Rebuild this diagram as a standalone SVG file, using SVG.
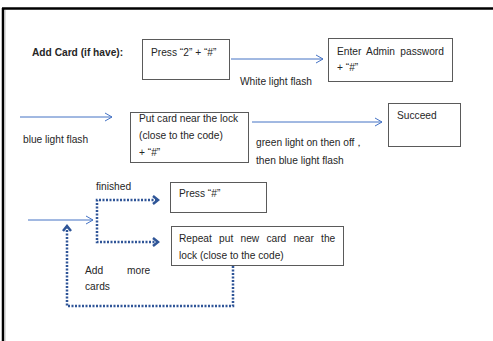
<svg xmlns="http://www.w3.org/2000/svg" width="493" height="341" viewBox="0 0 493 341">
<defs>
<style>
text{font-family:"Liberation Sans","Open Sans",sans-serif;font-size:10.2px;fill:#262626}
.b{font-weight:bold}
.box{fill:#fff;stroke:#5a5a5a;stroke-width:1}
.blue{fill:none;stroke:#4472C4;stroke-width:1}
.dot{fill:none;stroke:#2F5597;stroke-width:2.5;stroke-dasharray:2 1.5}
.head{fill:none;stroke:#2F5597;stroke-width:2.5}
</style>
<marker id="open" markerWidth="10" markerHeight="10" refX="8" refY="5" orient="auto" markerUnits="userSpaceOnUse">
<path d="M1,1 L8,5 L1,9" fill="none" stroke="#4472C4" stroke-width="1"/>
</marker>
</defs>
<rect width="493" height="341" fill="#fff"/>
<g id="frame">
<line x1="2" y1="8.5" x2="493" y2="8.5" stroke="#000" stroke-width="2.5"/>
<line x1="3" y1="8" x2="3" y2="341" stroke="#000" stroke-width="2.5"/>
<line x1="5" y1="10" x2="5" y2="341" stroke="#bbb" stroke-width="1"/>
</g>
<text class="b" x="32" y="56">Add Card (if have):</text>
<g id="connectors">
<line class="blue" x1="231" y1="59" x2="323" y2="59" marker-end="url(#open)"/>
<line class="blue" x1="20" y1="117" x2="112" y2="117" marker-end="url(#open)"/>
<line class="blue" x1="252" y1="122" x2="382" y2="122" marker-end="url(#open)"/>
<line class="blue" x1="28" y1="220" x2="93" y2="220" marker-end="url(#open)"/>
<path class="dot" d="M157,200 L97,200 L97,242 L157,242"/>
<path class="head" d="M153,196 L158,200 L153,204"/>
<path class="head" d="M153,238 L158,242 L153,246"/>
<path class="dot" d="M233,266 L233,306 L67,306 L67,228"/>
<path class="head" d="M63,231 L67,226 L71,231"/>
</g>
<text x="240" y="85">White light flash</text>
<text x="23" y="143">blue light flash</text>
<text x="256" y="146">green light on then off，</text>
<text x="256" y="164">then blue light flash</text>
<text x="96" y="190">finished</text>
<text x="85" y="274">Add</text>
<text x="127" y="274">more</text>
<text x="85" y="290">cards</text>
<g id="n1">
<rect class="box" x="142.5" y="39.5" width="87" height="40"/>
<text x="151" y="56">Press “2” + “#”</text>
</g>
<g id="n2">
<rect class="box" x="328.5" y="38.5" width="124" height="43"/>
<text x="337" y="55" word-spacing="2.5">Enter Admin password</text>
<text x="337" y="71">+ “#”</text>
</g>
<g id="n3">
<rect class="box" x="130.5" y="112.5" width="118" height="50"/>
<text x="139" y="122">Put card near the lock</text>
<text x="139" y="139">(close to the code)</text>
<text x="139" y="156">+ “#”</text>
</g>
<g id="n4">
<rect class="box" x="388.5" y="103.5" width="72" height="43"/>
<text x="397" y="119">Succeed</text>
</g>
<g id="n5">
<rect class="box" x="170.5" y="182.5" width="96" height="30"/>
<text x="179" y="197">Press “#”</text>
</g>
<g id="n6">
<rect class="box" x="171.5" y="226.5" width="172" height="39"/>
<text x="179" y="242" word-spacing="4.4">Repeat put new card near the</text>
<text x="179" y="259">lock (close to the code)</text>
</g>
</svg>
